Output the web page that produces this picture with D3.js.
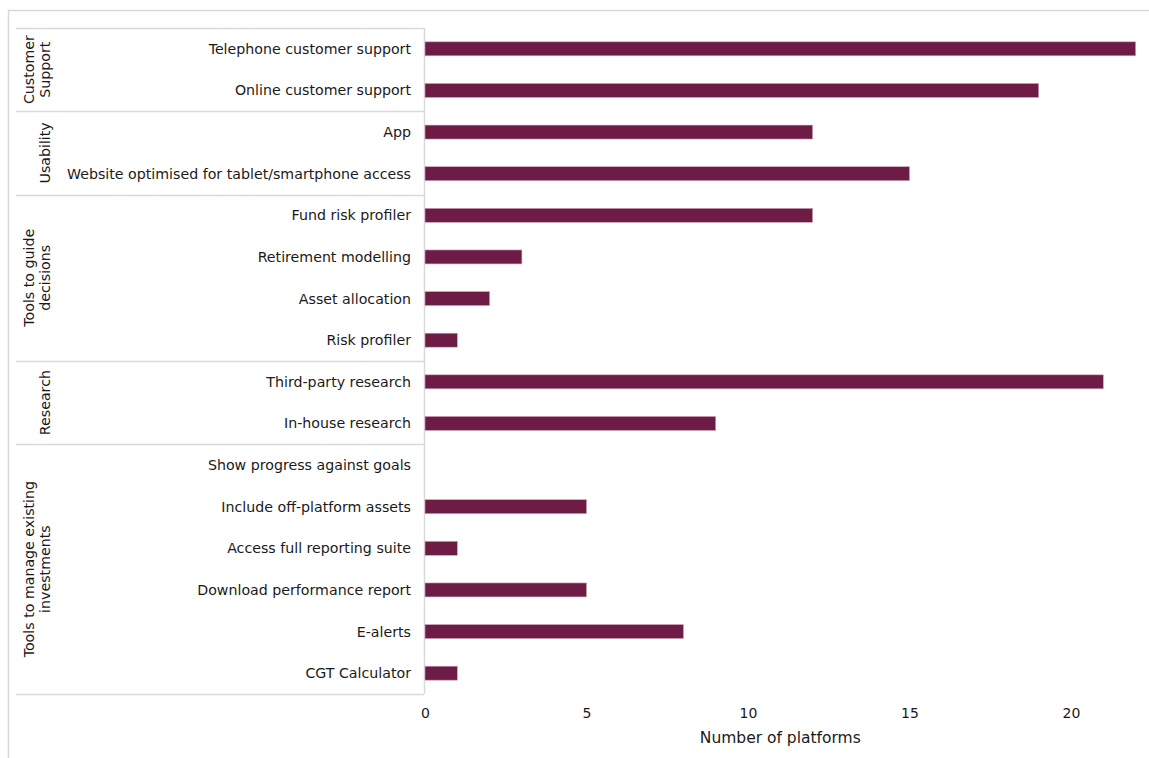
<!DOCTYPE html>
<html>
<head>
<meta charset="utf-8">
<script src="https://cdn.jsdelivr.net/npm/d3@7"></script>
<style>
  html, body { margin: 0; padding: 0; background: #fff; }
  svg { display: block; }
  text { font-family: "DejaVu Sans", Verdana, sans-serif; fill: #1a1a1a; }
</style>
</head>
<body>
<svg id="chart" width="1149" height="758"></svg>
<script>
// Features offered, grouped by theme
const features = [
  "Telephone customer support", "Online customer support",
  "App", "Website optimised for tablet/smartphone access",
  "Fund risk profiler", "Retirement modelling", "Asset allocation", "Risk profiler",
  "Third-party research", "In-house research",
  "Show progress against goals", "Include off-platform assets", "Access full reporting suite",
  "Download performance report", "E-alerts", "CGT Calculator"
];
const platformCounts = [22, 19, 12, 15, 12, 3, 2, 1, 21, 9, 0, 5, 1, 5, 8, 1];
const groupNames = [
  ["Customer", "Support"],
  ["Usability"],
  ["Tools to guide", "decisions"],
  ["Research"],
  ["Tools to manage existing", "investments"]
];
const groupSizes = [2, 2, 4, 2, 6];
const xTicks = [0, 5, 10, 15, 20];
const xTitle = "Number of platforms";

const svg = d3.select("#chart");
const lineColor = "#d9d9d9";
const barColor = "#6e1c46";
const labelSize = 14.2;

const plotLeft = 425, plotTop = 28, plotBottom = 694;
const x = d3.scaleLinear().domain([0, 20]).range([plotLeft, plotLeft + 646]);
const y = d3.scaleBand().domain(features).range([plotTop, plotBottom]).paddingInner(0.665).paddingOuter(0.3325);
const rowStep = y.step();

// outer frame
svg.append("rect").attr("x", 8.5).attr("y", 10.5).attr("width", 1200).attr("height", 800)
  .attr("fill", "none").attr("stroke", lineColor).attr("stroke-width", 1.5);

// category table lines
const tableLeft = 16, tableRight = 424;
svg.append("line").attr("x1", tableRight + 0.5).attr("x2", tableRight + 0.5)
  .attr("y1", plotTop).attr("y2", plotBottom).attr("stroke", lineColor).attr("stroke-width", 1.5);

let start = 0;
const bounds = [plotTop];
groupSizes.forEach(n => {
  start += n;
  bounds.push(plotTop + start * rowStep);
});
svg.selectAll("line.sep").data(bounds).join("line").attr("class", "sep")
  .attr("x1", tableLeft).attr("x2", tableRight)
  .attr("y1", d => Math.round(d) + 0.5).attr("y2", d => Math.round(d) + 0.5)
  .attr("stroke", lineColor).attr("stroke-width", 1.5);

// group labels, rotated
groupNames.forEach((lines, i) => {
  const cy = (bounds[i] + bounds[i + 1]) / 2;
  const xs = lines.length === 2 ? [29, 45] : [45];
  lines.forEach((t, j) => {
    svg.append("text")
      .attr("transform", `translate(${xs[j]},${cy}) rotate(-90)`)
      .attr("text-anchor", "middle").attr("dominant-baseline", "central")
      .attr("font-size", labelSize).text(t);
  });
});

// feature labels
svg.selectAll("text.cat").data(features).join("text").attr("class", "cat")
  .attr("x", 411).attr("y", d => y(d) + y.bandwidth() / 2)
  .attr("text-anchor", "end").attr("dominant-baseline", "central")
  .attr("font-size", labelSize).text(d => d);

// bars
svg.selectAll("rect.bar").data(features).join("rect").attr("class", "bar")
  .attr("x", x(0)).attr("y", d => y(d))
  .attr("width", (d, i) => x(platformCounts[i]) - x(0))
  .attr("height", y.bandwidth())
  .attr("fill", barColor)
  .attr("stroke", "#c9a3b6").attr("stroke-width", 0.6)
  .style("display", (d, i) => platformCounts[i] > 0 ? null : "none");

// x axis (labels only)
const axis = svg.append("g").attr("transform", `translate(0,${plotBottom})`)
  .call(d3.axisBottom(x).tickValues(xTicks).tickSize(0).tickPadding(14));
axis.select(".domain").remove();
axis.selectAll("text").attr("font-size", 14).attr("fill", "#1a1a1a")
  .style("font-family", '"DejaVu Sans", Verdana, sans-serif');

svg.append("text").attr("x", (x(0) + x(22)) / 2).attr("y", 743)
  .attr("text-anchor", "middle").attr("font-size", 15.5)
  .text(xTitle);
</script>
</body>
</html>
